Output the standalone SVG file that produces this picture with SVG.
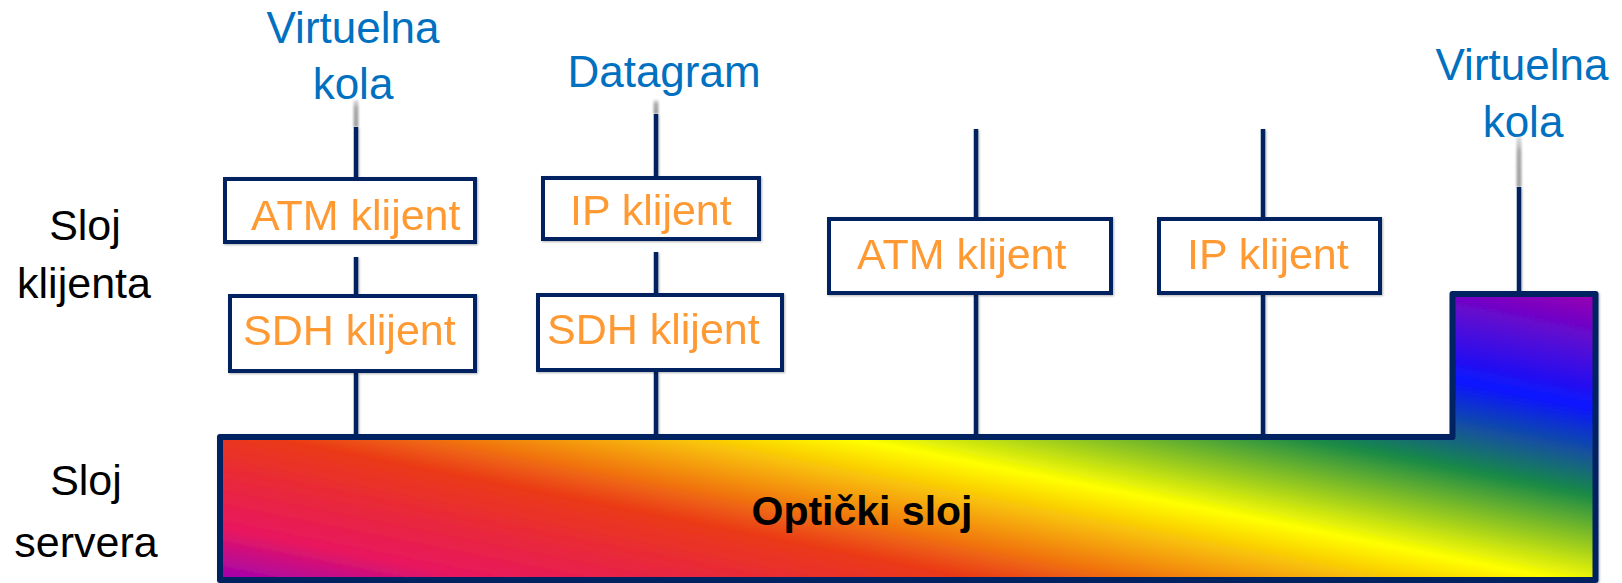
<svg xmlns="http://www.w3.org/2000/svg" width="1622" height="583" viewBox="0 0 1622 583">
  <defs>
    <linearGradient id="rainbow" gradientUnits="userSpaceOnUse" x1="846.9" y1="705.7" x2="954.7" y2="166.1">
      <stop offset="0" stop-color="#A000B4"/>
      <stop offset="0.095" stop-color="#E8175E"/>
      <stop offset="0.273" stop-color="#EA3A17"/>
      <stop offset="0.478" stop-color="#FFFF00"/>
      <stop offset="0.64" stop-color="#1A8A46"/>
      <stop offset="0.796" stop-color="#0A14FF"/>
      <stop offset="1" stop-color="#9A00B0"/>
    </linearGradient>
    <linearGradient id="fade" x1="0" y1="0" x2="0" y2="1">
      <stop offset="0" stop-color="#c0c0c0" stop-opacity="0.5"/>
      <stop offset="0.3" stop-color="#aaaaaa"/>
      <stop offset="1" stop-color="#a0a0a0"/>
    </linearGradient>
    <filter id="sh" x="-50%" y="-10%" width="200%" height="120%">
      <feDropShadow dx="1" dy="1" stdDeviation="1.2" flood-color="#000" flood-opacity="0.3"/>
    </filter>
    <filter id="blur" filterUnits="userSpaceOnUse" x="0" y="0" width="1622" height="583">
      <feGaussianBlur stdDeviation="0.8"/>
    </filter>
  </defs>
  <style>
    .ln { stroke: #002060; stroke-width: 4.5; fill: none; }
    .gl { fill: url(#fade); }
    .box { fill: #FFFFFF; stroke: #002060; stroke-width: 4; }
    .cl { font-family: "Liberation Sans", Arial, sans-serif; font-size: 43px; fill: #FF9933; }
    .bl { font-family: "Liberation Sans", Arial, sans-serif; font-size: 44px; fill: #0070C0; text-anchor: middle; }
    .bk { font-family: "Liberation Sans", Arial, sans-serif; font-size: 43px; fill: #000000; text-anchor: middle; }
  </style>
  <rect width="1622" height="583" fill="#FFFFFF"/>

  <g id="side-labels">
    <text class="bk" x="85" y="240">Sloj</text>
    <text class="bk" x="84" y="298">klijenta</text>
    <text class="bk" x="86" y="495">Sloj</text>
    <text class="bk" x="86" y="557">servera</text>
  </g>

  <g id="top-labels">
    <text class="bl" x="353" y="43">Virtuelna</text>
    <text class="bl" x="353" y="99">kola</text>
    <text class="bl" x="664" y="87">Datagram</text>
    <text class="bl" x="1522" y="80">Virtuelna</text>
    <text class="bl" x="1523" y="137">kola</text>
  </g>

  <g id="connectors">
    <g filter="url(#blur)">
      <rect class="gl" x="353.5" y="100" width="5" height="27"/>
      <rect class="gl" x="653.5" y="100" width="5" height="14"/>
      <rect class="gl" x="1516.5" y="137" width="5" height="50"/>
    </g>
    <g filter="url(#sh)">
      <line class="ln" x1="356" y1="127" x2="356" y2="177"/>
      <line class="ln" x1="356" y1="257" x2="356" y2="294"/>
      <line class="ln" x1="356" y1="373" x2="356" y2="437"/>
      <line class="ln" x1="656" y1="114" x2="656" y2="176"/>
      <line class="ln" x1="656" y1="252" x2="656" y2="293"/>
      <line class="ln" x1="656" y1="372" x2="656" y2="437"/>
      <line class="ln" x1="976" y1="129" x2="976" y2="217"/>
      <line class="ln" x1="976" y1="295" x2="976" y2="437"/>
      <line class="ln" x1="1263" y1="129" x2="1263" y2="217"/>
      <line class="ln" x1="1263" y1="295" x2="1263" y2="437"/>
      <line class="ln" x1="1519" y1="187" x2="1519" y2="292"/>
    </g>
  </g>

  <g id="atm-klijent-1" filter="url(#sh)">
    <rect class="box" x="225" y="179" width="250" height="63"/>
    <text class="cl" x="251" y="230">ATM klijent</text>
  </g>
  <g id="sdh-klijent-1" filter="url(#sh)">
    <rect class="box" x="230" y="296" width="245" height="75"/>
    <text class="cl" x="243" y="345">SDH klijent</text>
  </g>
  <g id="ip-klijent-1" filter="url(#sh)">
    <rect class="box" x="543" y="178" width="216" height="61"/>
    <text class="cl" x="570" y="225">IP klijent</text>
  </g>
  <g id="sdh-klijent-2" filter="url(#sh)">
    <rect class="box" x="538" y="295" width="244" height="75"/>
    <text class="cl" x="547" y="344">SDH klijent</text>
  </g>
  <g id="atm-klijent-2" filter="url(#sh)">
    <rect class="box" x="829" y="219" width="282" height="74"/>
    <text class="cl" x="857" y="269">ATM klijent</text>
  </g>
  <g id="ip-klijent-2" filter="url(#sh)">
    <rect class="box" x="1159" y="219" width="221" height="74"/>
    <text class="cl" x="1187" y="269">IP klijent</text>
  </g>

  <g id="opticki-sloj">
    <path d="M220,437 H1452.5 V294 H1595.5 V580 H220 Z" fill="url(#rainbow)" stroke="#002060" stroke-width="6" stroke-linejoin="round" filter="url(#sh)"/>
    <text x="862" y="525" font-family="'Liberation Sans', Arial, sans-serif" font-size="41" font-weight="bold" fill="#000000" text-anchor="middle">Optički sloj</text>
  </g>
</svg>
